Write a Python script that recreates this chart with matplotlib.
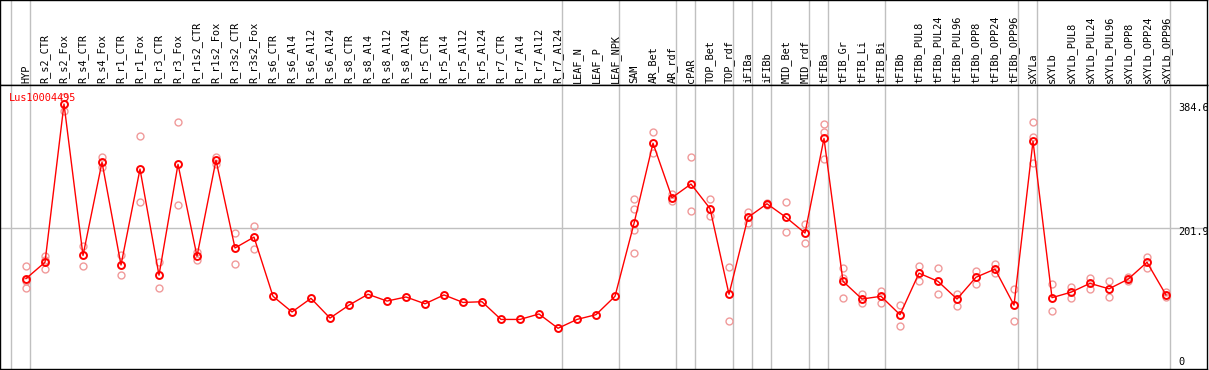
import numpy as np
import matplotlib
matplotlib.use('Agg')
import matplotlib.pyplot as plt

# Muestras (eje x)
labels = ['HYP', 'R_s2_CTR', 'R_s2_Fox', 'R_s4_CTR', 'R_s4_Fox', 'R_r1_CTR', 'R_r1_Fox',
          'R_r3_CTR', 'R_r3_Fox', 'R_r1s2_CTR', 'R_r1s2_Fox', 'R_r3s2_CTR', 'R_r3s2_Fox',
          'R_s6_CTR', 'R_s6_Al4', 'R_s6_Al12', 'R_s6_Al24', 'R_s8_CTR', 'R_s8_Al4',
          'R_s8_Al12', 'R_s8_Al24', 'R_r5_CTR', 'R_r5_Al4', 'R_r5_Al12', 'R_r5_Al24',
          'R_r7_CTR', 'R_r7_Al4', 'R_r7_Al12', 'R_r7_Al24', 'LEAF_N', 'LEAF_P', 'LEAF_NPK',
          'SAM', 'AR_Bet', 'AR_rdf', 'cPAR', 'TOP_Bet', 'TOP_rdf', 'iFIBa', 'iFIBb',
          'MID_Bet', 'MID_rdf', 'tFIBa', 'tFIB_Gr', 'tFIB_Li', 'tFIB_Bi', 'tFIBb',
          'tFIBb_PUL8', 'tFIBb_PUL24', 'tFIBb_PUL96', 'tFIBb_OPP8', 'tFIBb_OPP24',
          'tFIBb_OPP96', 'sXYLa', 'sXYLb', 'sXYLb_PUL8', 'sXYLb_PUL24', 'sXYLb_PUL96',
          'sXYLb_OPP8', 'sXYLb_OPP24', 'sXYLb_OPP96']

# Media de expresion
means = [128, 152, 384.6, 162, 299, 148, 289, 133, 296, 161, 302, 173, 189,
         102, 79, 99, 70, 89, 105, 95, 101, 91, 104, 93, 94,
         68, 68, 76, 55, 68, 75, 102,
         209, 327, 247, 267, 231, 105, 218, 238, 218, 195,
         334, 124, 98, 102, 75, 136, 124, 98, 130, 142, 89,
         330, 100, 108, 121, 113, 127, 152, 104]

# Replicas
reps = [[146, 125, 114], [161, 156, 142], [395, 375], [176, 147], [306, 292],
        [163, 134], [337, 241], [153, 114], [358, 236], [167, 156], [307, 297],
        [195, 150], [205, 171],
        [], [], [], [], [], [], [], [], [], [], [], [], [], [], [], [], [], [], [],
        [245, 230, 199, 165], [343, 312], [253, 242], [306, 227], [245, 220],
        [145, 65], [226, 210], [239, 236], [241, 196], [208, 181],
        [355, 343, 304], [144, 129, 99], [106, 92], [110, 92], [89, 59],
        [147, 125], [143, 106], [106, 88], [139, 120], [149, 136], [112, 66],
        [358, 336, 298], [120, 81], [116, 100], [129, 113], [124, 101],
        [131, 124], [160, 143], [108, 101]]

# Fin de cada grupo de muestras (lineas verticales)
group_ends = [-1, 0, 28, 31, 34, 35, 37, 38, 39, 41, 42, 45, 52, 53, 60]

ytick_vals = [384.6, 201.9, 0]
ytick_txt = ['384.6', '201.9', '0']
series_name = 'Lus10004495'

W, H = 1209, 370
fig = plt.figure(figsize=(W / 100, H / 100), dpi=100)
plt.rcParams['font.family'] = ['DejaVu Sans Mono']

x = np.arange(len(labels))
xlim = (-26 / 19, (1207 - 26) / 19)
k = 0.6804
ylim = ((365.7 - 369) / k, (365.7 - 85) / k)

head = fig.add_axes([0, 285 / H, 1207 / W, 85 / H])
ax = fig.add_axes([0, 1 / H, 1207 / W, 284 / H])

for a in (head, ax):
    a.set_xlim(*xlim)
    a.set_xticks([])
    a.set_yticks([])
    for s in a.spines.values():
        s.set_linewidth(1.0)
        s.set_color('black')
    for g in group_ends:
        a.axvline(g + 0.23, color='#c0c0c0', lw=1.0, zorder=0)

head.set_ylim(0, 1)
ax.set_ylim(*ylim)
ax.axhline(201.9, color='#c0c0c0', lw=1.0, zorder=0)

# Etiquetas verticales
for i, lab in enumerate(labels):
    head.text(i, 2 / 85, lab, rotation=90, ha='center', va='bottom',
              fontsize=7.4, color='black')

# Replicas
for i, r in enumerate(reps):
    if r:
        ax.plot([i] * len(r), r, 'o', ms=5, mfc='none', mec='#f09a9a', mew=1.0, zorder=2)

ax.plot(x, means, '-', color='red', lw=1.0, zorder=3)
ax.plot(x, means, 'o', ms=5, mfc='none', mec='red', mew=1.4, zorder=4)

ax.text(-0.879, 393.9, series_name, color='red', fontsize=7.4, ha='left', va='center')

offsets = [-3, -3, 3]
for v, t, off in zip(ytick_vals, ytick_txt, offsets):
    ax.annotate(t, xy=(60.63, v), xytext=(0, off), textcoords='offset points',
                ha='left', va='center', fontsize=7.4, color='black', clip_on=True)

fig.savefig('out.png', dpi=100)
